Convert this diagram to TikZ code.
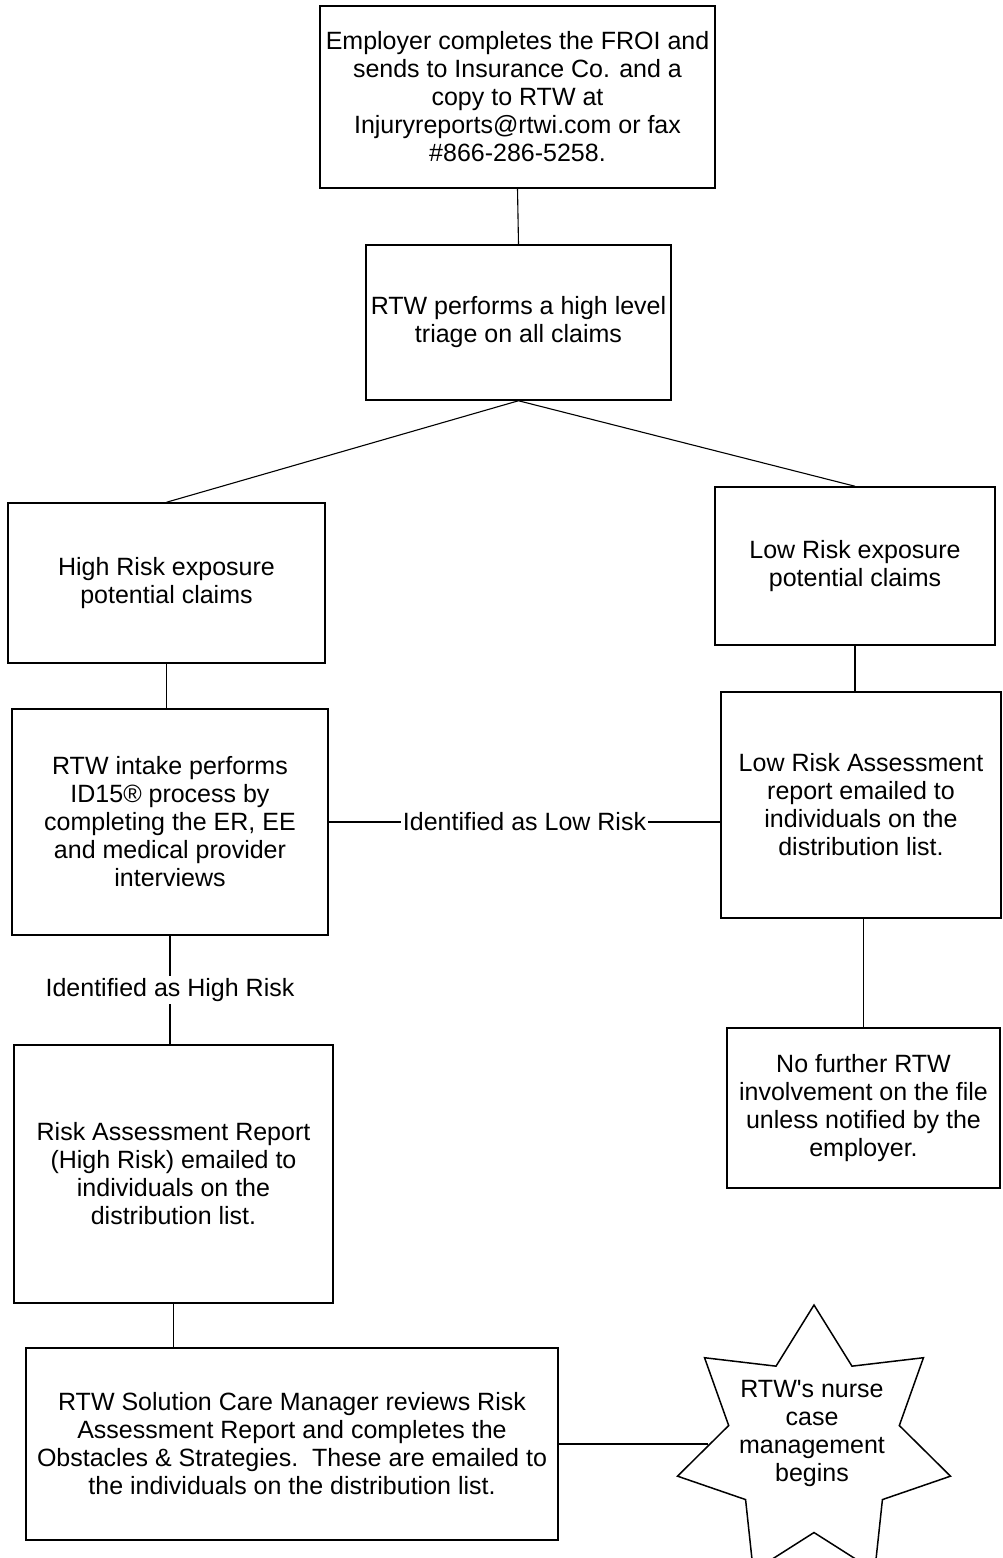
\documentclass[tikz,border=0pt]{standalone}
\usepackage{fontspec}
\setmainfont{Liberation Sans}
\usetikzlibrary{shapes.geometric}

\begin{document}
\begin{tikzpicture}[x=1pt,y=-1pt,
	every node/.style={font=\fontsize{25}{28}\selectfont},
	flowbox/.style={draw,line width=1.5pt,align=center,inner sep=0pt},
	link/.style={line width=1.1pt},
	linklabel/.style={fill=white,inner sep=2pt}]
			\useasboundingbox[fill=white] (0,0) rectangle (1002,1558);
			
			\node[flowbox,minimum width=395pt,minimum height=182pt] (froi) at (517.5,97)
				{Employer completes the FROI and\\sends to Insurance Co. and a\\copy to RTW at\\Injuryreports@rtwi.com or fax\\\#866-286-5258.};
			\node[flowbox,minimum width=305pt,minimum height=155pt] (triage) at (518.5,322.5)
				{RTW performs a high level\\triage on all claims};
			
			\node[flowbox,minimum width=317pt,minimum height=160pt] (hrisk) at (166.5,583)
				{High Risk exposure\\potential claims};
			\node[flowbox,minimum width=280pt,minimum height=158pt] (lrisk) at (855,566)
				{Low Risk exposure\\potential claims};
			
			\node[flowbox,minimum width=316pt,minimum height=226pt] (intake) at (170,822)
				{RTW intake performs\\ID15® process by\\completing the ER, EE\\and medical provider\\interviews};
			\node[flowbox,minimum width=280pt,minimum height=226pt] (lra) at (861,805)
				{Low Risk Assessment\\report emailed to\\individuals on the\\distribution list.};
			
			\node[flowbox,minimum width=319pt,minimum height=258pt] (rar) at (173.5,1174)
				{Risk Assessment Report\\(High Risk) emailed to\\individuals on the\\distribution list.};
			\node[flowbox,minimum width=273pt,minimum height=160pt] (nofurther) at (863.5,1108)
				{No further RTW\\involvement on the file\\unless notified by the\\employer.};
			
			\node[flowbox,minimum width=532pt,minimum height=192pt] (cm) at (292,1444)
				{RTW Solution Care Manager reviews Risk\\Assessment Report and completes the\\Obstacles \& Strategies.\ \ These are emailed to\\the individuals on the distribution list.};
			
			\node[draw,line width=1.5pt,shape=star,star points=7,star point ratio=1.6,
				minimum size=280pt,inner sep=0pt] (nurse) at (814,1445) {};
			\node[align=center] (nursetext) at (812,1433) {RTW\textquotesingle s nurse\\case\\management\\begins};
			
			
			\draw[link] (froi.south) -- (triage.north);
			\draw[link] (triage.south) -- (hrisk.north);
			\draw[link] (triage.south) -- (lrisk.north);
			\draw[link] (hrisk.south) -- (hrisk.south |- intake.north);
			\draw[link] (lrisk.south) -- (lrisk.south |- lra.north);
			\draw[link] (intake.east) -- (intake.east -| lra.west)
				node[linklabel,midway] {Identified as Low Risk};
			\draw[link] (intake.south) -- (intake.south |- rar.north)
				node[linklabel,midway] {Identified as High Risk};
			\draw[link] (nofurther.north |- lra.south) -- (nofurther.north);
			\draw[link] (rar.south) -- (rar.south |- cm.north);
			\draw[link] (cm.east) -- (cm.east -| nurse.west);
			
		\end{tikzpicture}
\end{document}
